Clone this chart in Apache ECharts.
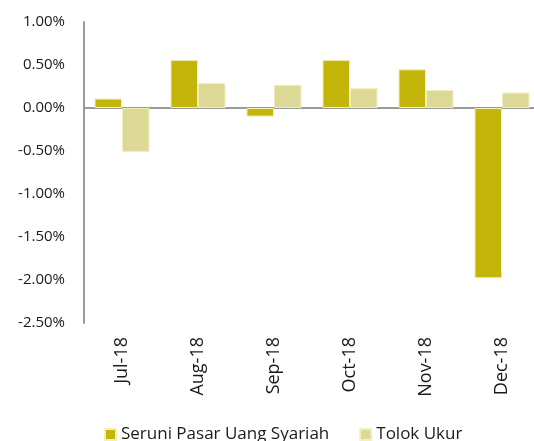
<!DOCTYPE html>
<html>
<head>
<meta charset="utf-8">
<script src="https://cdn.jsdelivr.net/npm/echarts@6/dist/echarts.min.js"></script>
<style>html,body{margin:0;padding:0;background:#fff;}#c{width:534px;height:441px;}</style>
</head>
<body>
<div id="c"></div>
<script>
var categories = ['Jul-18', 'Aug-18', 'Sep-18', 'Oct-18', 'Nov-18', 'Dec-18'];
var seriesNames = ['Seruni Pasar Uang Syariah', 'Tolok Ukur'];
var seruni = [0.11, 0.56, -0.10, 0.56, 0.45, -1.98];
var tolok = [-0.51, 0.29, 0.27, 0.23, 0.21, 0.18];
var yMin = -2.5, yMax = 1.0, yInterval = 0.5;

var chart = echarts.init(document.getElementById('c'));
var font = 'Open Sans';
chart.setOption({
  animation: false,
  grid: { left: 84, width: 456, top: 22, bottom: 118, containLabel: false, outerBoundsMode: 'none' },
  legend: {
    left: 104, top: 426, padding: 0,
    itemWidth: 11, itemHeight: 11, itemGap: 30,
    icon: 'rect',
    textStyle: { fontFamily: font, fontSize: 17, lineHeight: 17, color: '#1a1a1a', padding: [0, 0, 0, 0] },
    data: seriesNames
  },
  xAxis: {
    type: 'category',
    data: categories,
    axisLine: { onZero: true, lineStyle: { color: '#9a9a9a', width: 2 } },
    axisTick: { show: false },
    axisLabel: {
      interval: 0, rotate: 90, margin: 14,
      fontFamily: font, fontSize: 18, color: '#1a1a1a'
    }
  },
  yAxis: {
    type: 'value',
    min: yMin, max: yMax, interval: yInterval,
    splitLine: { show: false },
    axisLine: { show: true, lineStyle: { color: '#9a9a9a', width: 2 } },
    axisTick: { show: false },
    axisLabel: {
      margin: 19,
      fontFamily: font, fontSize: 15, color: '#1a1a1a',
      formatter: function (v) { return v.toFixed(2) + '%'; }
    }
  },
  series: [
    {
      name: seriesNames[0], type: 'bar', data: seruni,
      barGap: '0%', barCategoryGap: '27.6%',
      itemStyle: { color: '#C3B50A', borderColor: '#F3EEBE', borderWidth: 1 }
    },
    {
      name: seriesNames[1], type: 'bar', data: tolok,
      barGap: '0%', barCategoryGap: '27.6%',
      itemStyle: { color: '#DCD895', borderColor: '#F3EEBE', borderWidth: 1 }
    }
  ]
});
</script>
</body>
</html>
